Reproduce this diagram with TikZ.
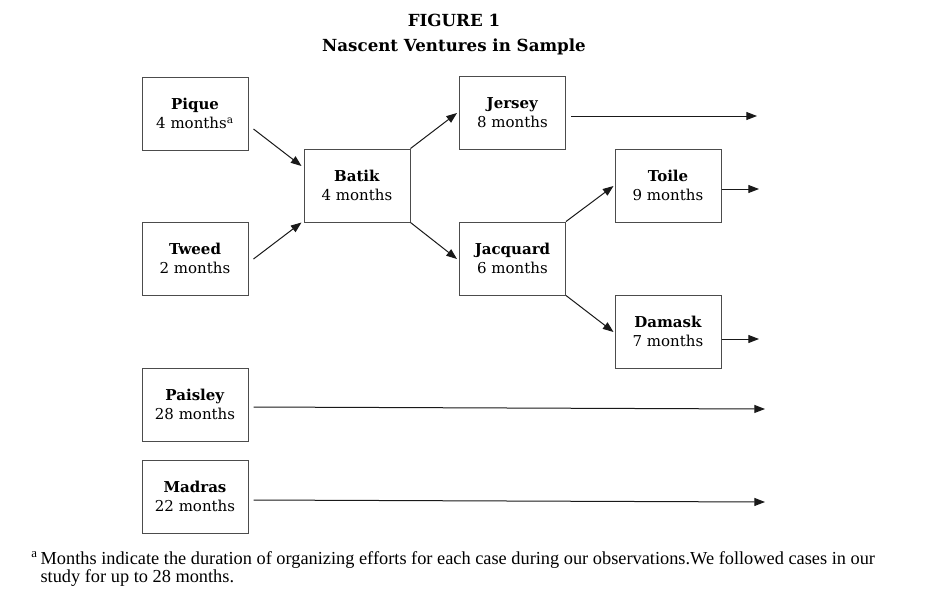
\documentclass[tikz,border=0pt]{standalone}
\usepackage{fontspec}
\setmainfont{DejaVu Serif}
\newfontfamily\notefont{Liberation Serif}
\usetikzlibrary{arrows.meta}
\begin{document}
\begin{tikzpicture}[x=0.75pt,y=-0.75pt,
  case/.style={draw=black!70,line width=0.75pt,minimum width=79.5pt,minimum height=54.75pt,
    inner sep=0pt,align=center,font=\fontsize{11.25}{14.25}\selectfont},
  link/.style={draw=black!90,line width=0.75pt,-{Triangle[length=8pt,width=6pt]}}]
\useasboundingbox (0,0) rectangle (943,608);
\node[font=\bfseries\fontsize{12.5}{18.75}\selectfont,align=center] (title) at (454,34.5) {FIGURE 1\\Nascent Ventures in Sample};
\node[case] (pique) at (195,113.5) {\textbf{Pique}\\4 months\textsuperscript{a}};
\node[case] (tweed) at (195,258.5) {\textbf{Tweed}\\2 months};
\node[case] (batik) at (357,185.5) {\textbf{Batik}\\4 months};
\node[case] (jersey) at (512.5,113) {\textbf{Jersey}\\8 months};
\node[case] (jacquard) at (512.5,258.5) {\textbf{Jacquard}\\6 months};
\node[case] (toile) at (668,185.5) {\textbf{Toile}\\9 months};
\node[case] (damask) at (668,331.5) {\textbf{Damask}\\7 months};
\node[case] (paisley) at (195,404.5) {\textbf{Paisley}\\28 months};
\node[case] (madras) at (195,496.5) {\textbf{Madras}\\22 months};
\coordinate (e1) at (757,116);
\coordinate (e2) at (759,189);
\coordinate (e3) at (759,339);
\coordinate (e4) at (765,409);
\coordinate (e5) at (765,502);
\draw[link] ([shift={(5,15.5)}]pique.east) -- ([shift={(-2,-19.5)}]batik.west);
\draw[link] ([shift={(5,0.5)}]tweed.east) -- ([shift={(-2,0)}]batik.south west);
\draw[link] (batik.north east) -- ([shift={(-2,0)}]jersey.west);
\draw[link] (batik.south east) -- ([shift={(-2,0.5)}]jacquard.west);
\draw[link] ([shift={(5,3)}]jersey.east) -- (e1);
\draw[link] (jacquard.north east) -- ([shift={(-1,0.5)}]toile.west);
\draw[link] (jacquard.south east) -- ([shift={(-1,0.5)}]damask.west);
\draw[link] ([shift={(0,3.5)}]toile.east) -- (e2);
\draw[link] ([shift={(0,7.5)}]damask.east) -- (e3);
\draw[link] ([shift={(5,2.5)}]paisley.east) -- (e4);
\draw[link] ([shift={(5,3.5)}]madras.east) -- (e5);
\node[anchor=north west,align=left,inner sep=0pt,font=\notefont\fontsize{13.75}{13.5}\selectfont] (note) at (31,551)
 {\textsuperscript{a}\,Months indicate the duration of organizing efforts for each case during our observations.We followed cases in our\\
 \hspace*{7pt}study for up to 28 months.};
\end{tikzpicture}
\end{document}
